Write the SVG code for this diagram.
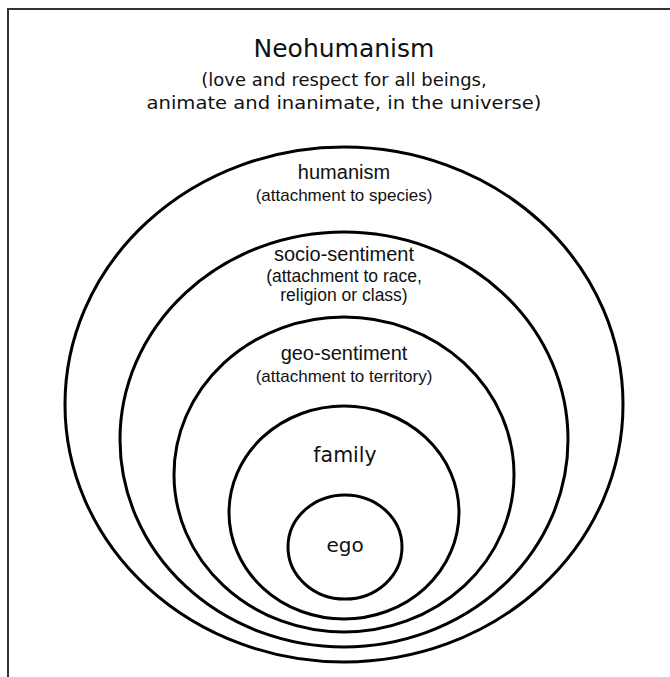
<svg xmlns="http://www.w3.org/2000/svg" width="670" height="677" viewBox="0 0 670 677">
<style>
.ring{fill:none;stroke:#000;stroke-width:3}
.title{font-family:"DejaVu Sans",Verdana,sans-serif;fill:#111;text-anchor:middle}
.lbl{font-family:"Liberation Sans",Arial,sans-serif;fill:#111;text-anchor:middle}
.dv{font-family:"DejaVu Sans",Verdana,sans-serif;fill:#111;text-anchor:middle}
.frame{stroke:#333;stroke-width:2;fill:none}
</style>
<rect width="670" height="677" fill="#fff"/>
<path class="frame" d="M8,677 V9 H670"/>
<g id="neohumanism">
<text class="title" x="344" y="57" font-size="25">Neohumanism</text>
<text class="title" x="344" y="86" font-size="18">(love and respect for all beings,</text>
<text class="title" x="344" y="109" font-size="18.5" textLength="395" lengthAdjust="spacingAndGlyphs">animate and inanimate, in the universe)</text>
</g>
<g id="humanism">
<ellipse class="ring" cx="344" cy="404.5" rx="279" ry="257.5"/>
<text class="lbl" x="344" y="179" font-size="20">humanism</text>
<text class="lbl" x="344" y="201" font-size="17">(attachment to species)</text>
</g>
<g id="socio-sentiment">
<ellipse class="ring" cx="344" cy="439.5" rx="224" ry="207.5"/>
<text class="lbl" x="344" y="261" font-size="20">socio-sentiment</text>
<text class="lbl" x="344" y="282" font-size="17.5">(attachment to race,</text>
<text class="lbl" x="344" y="301" font-size="17.5">religion or class)</text>
</g>
<g id="geo-sentiment">
<ellipse class="ring" cx="344" cy="474.5" rx="170" ry="157.5"/>
<text class="lbl" x="344" y="360" font-size="20">geo-sentiment</text>
<text class="lbl" x="344" y="382" font-size="17">(attachment to territory)</text>
</g>
<g id="family">
<ellipse class="ring" cx="344" cy="512.5" rx="115" ry="106.5"/>
<text class="dv" x="345" y="462" font-size="20.5">family</text>
</g>
<g id="ego">
<ellipse class="ring" cx="345" cy="547" rx="57" ry="52"/>
<text class="dv" x="345" y="552" font-size="20">ego</text>
</g>
</svg>
